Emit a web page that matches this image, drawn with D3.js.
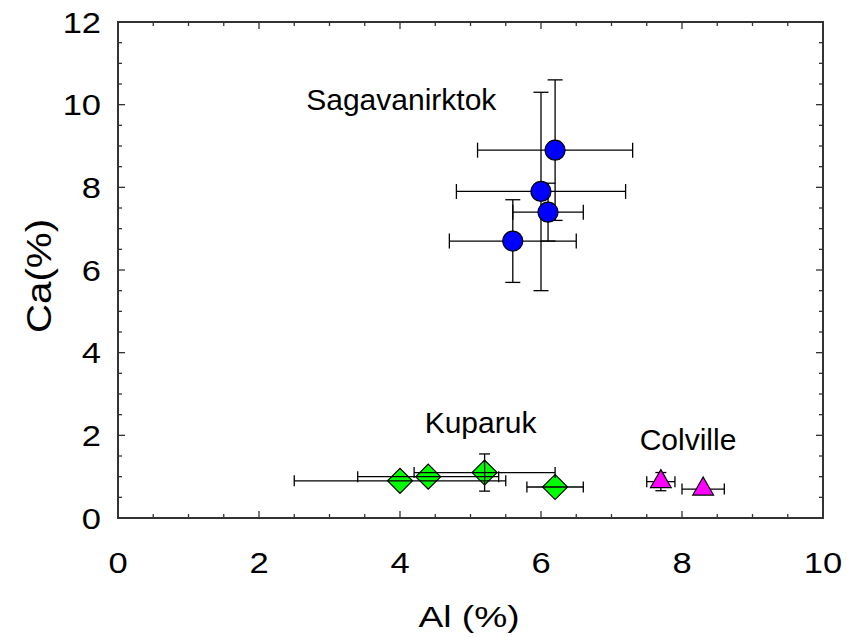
<!DOCTYPE html>
<html>
<head>
<meta charset="utf-8">
<script src="https://cdn.jsdelivr.net/npm/d3@7"></script>
<style>
  body { margin: 0; background: #fff; }
  text { font-family: "Liberation Sans", Arial, sans-serif; fill: #000; }
</style>
</head>
<body>
<div id="chart"></div>
<script>
const width = 847
const height = 637

// Sagavanirktok
const sagX = [6.2, 6.0, 6.1, 5.6]
const sagY = [8.9, 7.9, 7.4, 6.7]
const sagXErr = [1.1, 1.2, 0.5, 0.9]
const sagYErr = [1.7, 2.4, 0.7, 1.0]

// Kuparuk
const kupX = [4.0, 4.4, 5.2, 6.2]
const kupY = [0.9, 1.0, 1.1, 0.75]
const kupXErr = [1.5, 1.0, 1.0, 0.4]
const kupYErr = [0, 0, 0.45, 0]

// Colville
const colX = [7.7, 8.3]
const colY = [0.88, 0.7]
const colXErr = [0.2, 0.3]
const colYErr = [0.22, 0]

const xTicks = [0, 2, 4, 6, 8, 10]
const yTicks = [0, 2, 4, 6, 8, 10, 12]

const labels = [
    {text: "Sagavanirktok", x: 2.67, y: 9.88},
    {text: "Kuparuk", x: 4.35, y: 2.05},
    {text: "Colville", x: 7.4, y: 1.65}
]

const margin = {left: 118, right: 24, top: 22, bottom: 119}

const svg = d3.select("#chart").append("svg")
    .attr("width", width)
    .attr("height", height)

const x = d3.scaleLinear().domain([0, 10]).range([margin.left, width - margin.right])
const y = d3.scaleLinear().domain([0, 12]).range([height - margin.bottom, margin.top])

// ticks on all four sides, pointing inward
const axisColor = "#333"
const frame = svg.append("g")
const xMinor = d3.range(0, 10.01, 0.5)
const yMinor = d3.range(0, 12.01, 0.5)
const isMajor = (v, list) => list.some(t => Math.abs(t - v) < 1e-6)

xMinor.forEach(v => {
    const len = isMajor(v, xTicks) ? 7 : 4
    frame.append("line").attr("x1", x(v)).attr("x2", x(v))
        .attr("y1", y(0)).attr("y2", y(0) - len)
    frame.append("line").attr("x1", x(v)).attr("x2", x(v))
        .attr("y1", y(12)).attr("y2", y(12) + len)
})
yMinor.forEach(v => {
    const len = isMajor(v, yTicks) ? 7 : 4
    frame.append("line").attr("y1", y(v)).attr("y2", y(v))
        .attr("x1", x(0)).attr("x2", x(0) + len)
    frame.append("line").attr("y1", y(v)).attr("y2", y(v))
        .attr("x1", x(10)).attr("x2", x(10) - len)
})
frame.selectAll("line").attr("stroke", axisColor).attr("stroke-width", 1.3)

frame.append("rect")
    .attr("x", x(0)).attr("y", y(12))
    .attr("width", x(10) - x(0)).attr("height", y(0) - y(12))
    .attr("fill", "none").attr("stroke", axisColor).attr("stroke-width", 2)

// tick labels and axis titles in the original are a little wider than Arial
const stretch = 1.19

svg.append("g").selectAll("text").data(xTicks).join("text")
    .attr("transform", d => `translate(${x(d)},${y(0) + 55}) scale(${stretch},1)`)
    .attr("text-anchor", "middle")
    .attr("font-size", 29)
    .text(d => d)

svg.append("g").selectAll("text").data(yTicks).join("text")
    .attr("transform", d => `translate(${x(0) - 17},${y(d) + 10.5}) scale(${stretch},1)`)
    .attr("text-anchor", "end")
    .attr("font-size", 29)
    .text(d => d)

svg.append("text")
    .attr("transform", "translate(469,627) scale(1.24,1)")
    .attr("text-anchor", "middle")
    .attr("font-size", 30)
    .text("Al (%)")

svg.append("text")
    .attr("transform", "translate(51,276) rotate(-90) scale(1.12,1)")
    .attr("text-anchor", "middle")
    .attr("font-size", 36)
    .text("Ca(%)")

svg.append("g").selectAll("text").data(labels).join("text")
    .attr("x", d => x(d.x)).attr("y", d => y(d.y))
    .attr("font-size", 30)
    .text(d => d.text)

function errorBars(g, xs, ys, xe, ye, cap) {
    const pts = xs.map((v, i) => ({x: v, y: ys[i], xe: xe[i], ye: ye[i]}))
    const bars = g.append("g").attr("stroke", "#000").attr("stroke-width", 1.3)
    pts.forEach(p => {
        if (p.xe > 0) {
            bars.append("line").attr("x1", x(p.x - p.xe)).attr("x2", x(p.x + p.xe))
                .attr("y1", y(p.y)).attr("y2", y(p.y))
            ;[p.x - p.xe, p.x + p.xe].forEach(e => bars.append("line")
                .attr("x1", x(e)).attr("x2", x(e))
                .attr("y1", y(p.y) - cap).attr("y2", y(p.y) + cap))
        }
        if (p.ye > 0) {
            bars.append("line").attr("x1", x(p.x)).attr("x2", x(p.x))
                .attr("y1", y(p.y - p.ye)).attr("y2", y(p.y + p.ye))
            ;[p.y - p.ye, p.y + p.ye].forEach(e => bars.append("line")
                .attr("x1", x(p.x) - cap).attr("x2", x(p.x) + cap)
                .attr("y1", y(e)).attr("y2", y(e)))
        }
    })
}

function markers(g, xs, ys, symbol, size, color, rot) {
    g.append("g").selectAll("path").data(xs.map((v, i) => [v, ys[i]])).join("path")
        .attr("d", d3.symbol().type(symbol).size(size))
        .attr("transform", d => `translate(${x(d[0])},${y(d[1])}) rotate(${rot})`)
        .attr("fill", color)
        .attr("stroke", "#000")
        .attr("stroke-width", 1.2)
}

const plot = svg.append("g")

// Sagavanirktok: bars below the circles
errorBars(plot, sagX, sagY, sagXErr, sagYErr, 7.5)
markers(plot, sagX, sagY, d3.symbolCircle, Math.PI * 100, "#0000ff", 0)

// Kuparuk: bars drawn over the diamonds
markers(plot, kupX, kupY, d3.symbolSquare, 312, "#00ff00", 45)
errorBars(plot, kupX, kupY, kupXErr, kupYErr, 5.5)

// Colville
errorBars(plot, colX, colY, colXErr, colYErr, 5.5)
markers(plot, colX, colY, d3.symbolTriangle, 187, "#ff00ff", 0)
</script>
</body>
</html>
